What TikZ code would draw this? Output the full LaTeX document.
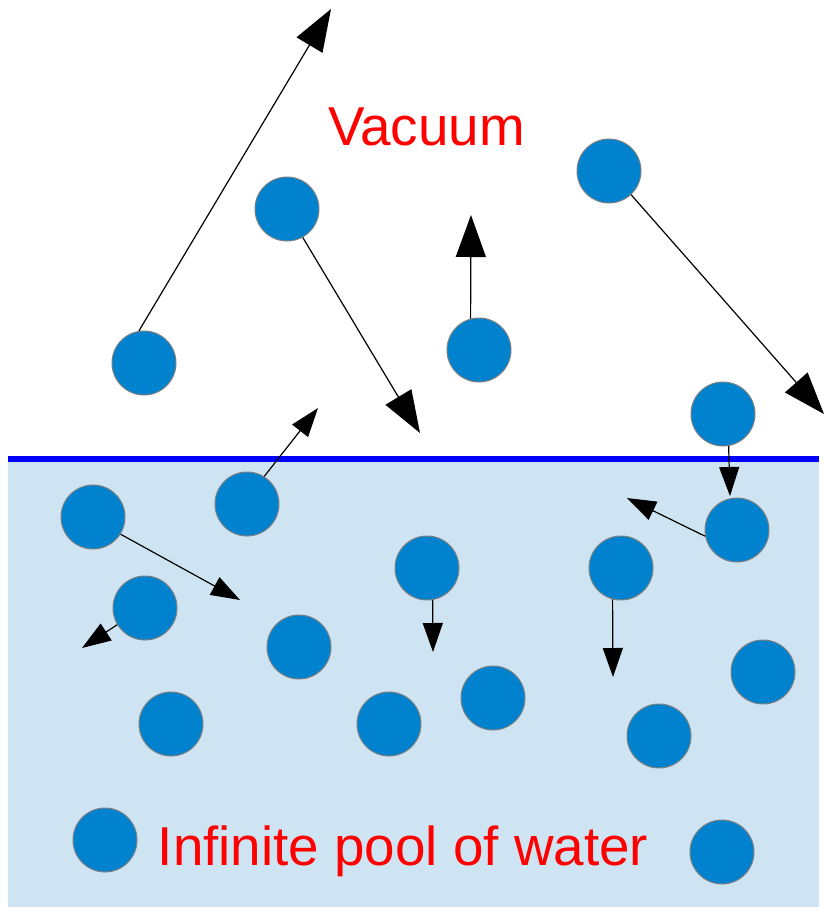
\documentclass[tikz,border=0pt]{standalone}
\usepackage{fontspec}
\newfontfamily\labelfont{Liberation Sans}
\usetikzlibrary{arrows.meta}

\definecolor{molblue}{RGB}{0,130,206}
\definecolor{poolblue}{RGB}{207,228,242}
\definecolor{surfblue}{RGB}{0,0,255}

\tikzset{
  molecule/.style={circle, fill=molblue, draw=gray, line width=0.5pt,
    minimum size=32pt, inner sep=0pt},
  bigmove/.style={-{Triangle[length=21pt,width=15pt]}, line width=0.6pt},
  smallmove/.style={-{Triangle[length=14.5pt,width=10pt]}, line width=0.6pt},
  regiontext/.style={text=red, font=\labelfont\fontsize{27.4}{31}\selectfont,
    anchor=base}
}

\begin{document}
\begin{tikzpicture}[x=0.5pt, y=-0.5pt]
    \useasboundingbox (0,0) rectangle (825,907);

    % --- pool and surface ---
    \fill[poolblue] (8,459) rectangle (819,907);
    \draw[surfblue, line width=3pt] (8,459) -- (819,459);

    % --- labels ---
    \node[regiontext] (vac) at (426.5,145) {Vacuum};
    \node[regiontext] (pool) at (403,865) {Infinite pool of water};

    % molecules in the vacuum
    \node[molecule] (v1) at (144,363) {};
    \node[molecule] (v2) at (287,209) {};
    \node[molecule] (v3) at (609,171) {};
    \node[molecule] (v4) at (479,350) {};
    \node[molecule] (v5) at (723,414) {};

    % molecules in the water
    \node[molecule] (w1) at (93,517) {};
    \node[molecule] (w2) at (247,504) {};
    \node[molecule] (w3) at (145,608) {};
    \node[molecule] (w4) at (299,647) {};
    \node[molecule] (w5) at (427,568) {};
    \node[molecule] (w6) at (621,568) {};
    \node[molecule] (w7) at (737,530) {};
    \node[molecule] (w8) at (763,672) {};
    \node[molecule] (w9) at (171,724) {};
    \node[molecule] (w10) at (389,724) {};
    \node[molecule] (w11) at (493,698) {};
    \node[molecule] (w12) at (659,736) {};
    \node[molecule] (w13) at (105,840) {};
    \node[molecule] (w14) at (722,852) {};

    % punte delle velocita
    \coordinate (t1) at (331,9);
    \coordinate (t2) at (420,433);
    \coordinate (t3) at (824,414);
    \coordinate (t4) at (471,215);
    \coordinate (t5) at (730,496);
    \coordinate (t6) at (240,600);
    \coordinate (t7) at (318,408);
    \coordinate (t8) at (82,648);
    \coordinate (t10) at (433,652);
    \coordinate (t11) at (613,677);
    \coordinate (t12) at (627,498);

    % --- velocity arrows ---
    \draw[bigmove] (v1.99) -- (t1);
    \draw[bigmove] (v2.-61) -- (t2);
    \draw[bigmove] (v3.-47) -- (t3);
    \draw[bigmove] (v4.105) -- (t4);
    \draw[smallmove] (v5.-80) -- (t5);

    \draw[smallmove] (w1.-32) -- (t6);
    \draw[smallmove] (w2.58) -- (t7);
    \draw[smallmove] (w3.211) -- (t8);
    \draw[smallmove] (w5.-80) -- (t10);
    \draw[smallmove] (w6.-105) -- (t11);
    \draw[smallmove] (w7.191) -- (t12);
\end{tikzpicture}
\end{document}
